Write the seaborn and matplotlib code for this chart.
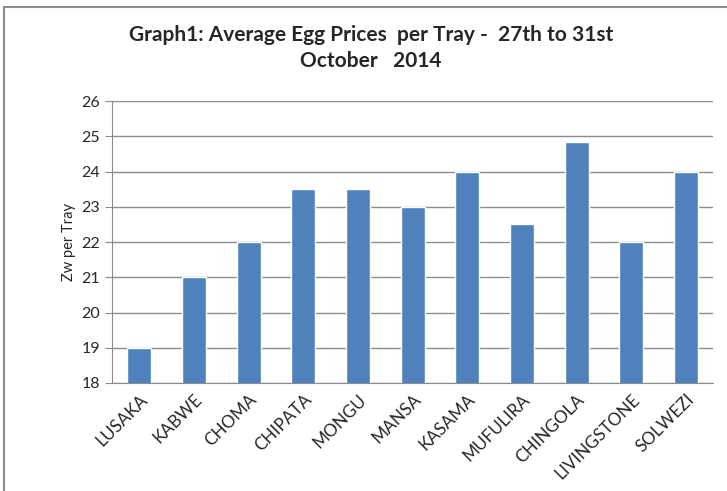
#!/usr/bin/env python3
"""Average egg prices per tray, 27th-31st October 2014."""

import matplotlib
matplotlib.use("Agg")
import matplotlib.pyplot as plt
import pandas as pd
import seaborn as sns
from matplotlib.lines import Line2D

towns = ["LUSAKA", "KABWE", "CHOMA", "CHIPATA", "MONGU", "MANSA", "KASAMA",
         "MUFULIRA", "CHINGOLA", "LIVINGSTONE", "SOLWEZI"]
prices = [19, 21, 22, 23.5, 23.5, 23, 24, 22.5, 24.85, 22, 24]

df = pd.DataFrame({"town": towns, "price": prices})

sns.set_style("white")
plt.rcParams["font.family"] = ["Lato", "DejaVu Sans"]

fig = plt.figure(figsize=(7.27, 4.91), dpi=100)
ax = fig.add_axes([0.154, 0.22, 0.827, 0.574])

sns.barplot(data=df, x="town", y="price", ax=ax, color="#4F81BD",
            width=0.44, saturation=1)

ax.set_ylim(18, 26)
ax.set_yticks(range(18, 27))
ax.grid(axis="y", color="#8c8c8c", linewidth=1)
ax.set_axisbelow(True)
for s in ["top", "right"]:
    ax.spines[s].set_visible(False)
ax.spines["left"].set_color("#8c8c8c")
ax.spines["bottom"].set_color("#8c8c8c")
ax.tick_params(axis="y", length=5, color="#8c8c8c", direction="out",
               labelsize=11.5, left=True)
ax.tick_params(axis="x", length=0, labelsize=12.3, pad=6)
plt.setp(ax.get_xticklabels(), rotation=45, ha="right", rotation_mode="anchor")
ax.set_xlabel("")
ax.set_ylabel("Zw per Tray", fontsize=10.5)

fig.suptitle("Graph1: Average Egg Prices  per Tray -  27th to 31st\nOctober   2014",
             x=0.51, y=0.95, fontsize=15, fontweight="bold", linespacing=1.4)

# chart frame: only top and left edges show in the crop
fig.add_artist(Line2D([0.006, 1.0], [0.986, 0.986], transform=fig.transFigure,
                      color="#8c8c8c", linewidth=1.5))
fig.add_artist(Line2D([0.006, 0.006], [0.0, 0.986], transform=fig.transFigure,
                      color="#8c8c8c", linewidth=1.5))

fig.savefig("out.png", dpi=100)
